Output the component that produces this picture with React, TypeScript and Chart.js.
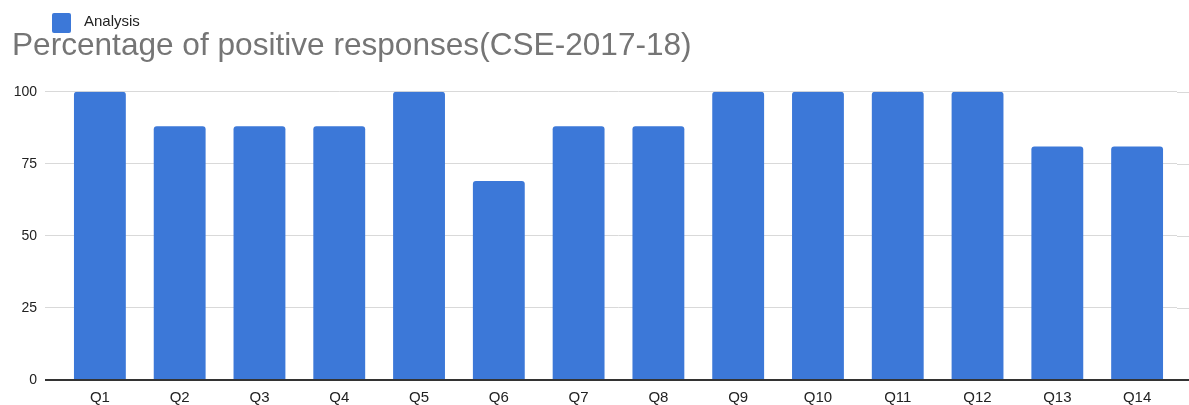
import React, { useEffect, useRef } from "react";
import { Chart, registerables } from "chart.js";

Chart.register(...registerables);

const categories = ["Q1", "Q2", "Q3", "Q4", "Q5", "Q6", "Q7", "Q8", "Q9", "Q10", "Q11", "Q12", "Q13", "Q14"];
const analysisValues = [100, 88, 88, 88, 100, 69, 88, 88, 100, 100, 100, 100, 81, 81];
const yTicks = [0, 25, 50, 75, 100];
const seriesLabel = "Analysis";
const chartTitle = "Percentage of positive responses(CSE-2017-18)";

const BAR_COLOR = "#3c78d8";
const GRID_COLOR = "#d9d9d9";
const AXIS_COLOR = "#333333";
const FONT = "'Liberation Sans', Arial, Helvetica, sans-serif";

const extendGridPlugin = {
  id: "extendGrid",
  beforeDatasetsDraw(chart: any) {
    const { ctx, chartArea, scales } = chart;
    const y = scales.y;
    ctx.save();
    y.ticks.forEach((t: any) => {
      const py = Math.round(y.getPixelForValue(t.value));
      const zero = t.value === 0;
      ctx.strokeStyle = zero ? AXIS_COLOR : GRID_COLOR;
      ctx.lineWidth = zero ? 2 : 1;
      ctx.beginPath();
      const off = zero ? 0 : 0.5;
      ctx.moveTo(chartArea.right, py + off);
      ctx.lineTo(chart.width, py + off);
      ctx.stroke();
    });
    ctx.restore();
  },
};

const legendPlugin = {
  id: "customLegend",
  afterDraw(chart: any) {
    const { ctx } = chart;
    const ds = chart.data.datasets[0];
    ctx.save();
    ctx.fillStyle = ds.backgroundColor;
    ctx.beginPath();
    (ctx as any).roundRect(52, 13, 19, 20, 2);
    ctx.fill();
    ctx.fillStyle = "#222222";
    ctx.font = `15px ${FONT}`;
    ctx.textBaseline = "middle";
    ctx.textAlign = "left";
    ctx.fillText(ds.label, 84, 22);
    ctx.restore();
  },
};

export default function App() {
  const canvasRef = useRef<HTMLCanvasElement | null>(null);

  useEffect(() => {
    if (!canvasRef.current) return;
    const chart = new Chart(canvasRef.current, {
      type: "bar",
      data: {
        labels: categories,
        datasets: [
          {
            label: seriesLabel,
            data: analysisValues,
            backgroundColor: BAR_COLOR,
            borderRadius: 3,
            borderSkipped: "bottom",
            barPercentage: 0.65,
            categoryPercentage: 1,
          },
        ],
      },
      options: {
        animation: false,
        responsive: true,
        maintainAspectRatio: false,
        layout: { padding: { left: 12, right: 12, top: 0, bottom: 0 } },
        plugins: {
          legend: { display: false },
          tooltip: { enabled: false },
          title: {
            display: true,
            text: chartTitle,
            align: "start",
            color: "#757575",
            font: { family: FONT, size: 31.6, weight: "normal" },
            padding: { top: 27, bottom: 26.8 },
          },
        },
        scales: {
          x: {
            grid: { display: false, drawTicks: false },
            border: { display: false },
            afterFit: (scale: any) => {
              scale.height = 25;
            },
            ticks: {
              color: "#222222",
              font: { family: FONT, size: 15 },
              padding: 9,
              maxRotation: 0,
              autoSkip: false,
            },
          },
          y: {
            min: 0,
            max: 100,
            afterBuildTicks: (scale: any) => {
              scale.ticks = yTicks.map((v) => ({ value: v }));
            },
            afterFit: (scale: any) => {
              scale.width = 48;
            },
            border: { display: false },
            grid: {
              color: (c: any) => (c.tick && c.tick.value === 0 ? AXIS_COLOR : GRID_COLOR),
              lineWidth: (c: any) => (c.tick && c.tick.value === 0 ? 2 : 1),
              tickLength: 15,
            },
            ticks: {
              color: "#222222",
              font: { family: FONT, size: 14 },
              padding: 8,
            },
          },
        },
      },
      plugins: [extendGridPlugin, legendPlugin],
    });
    return () => chart.destroy();
  }, []);

  return (
    <div style={{ position: "absolute", left: 0, top: 0, width: 1189, height: 405, background: "#fff" }}>
      <canvas ref={canvasRef} />
    </div>
  );
}
